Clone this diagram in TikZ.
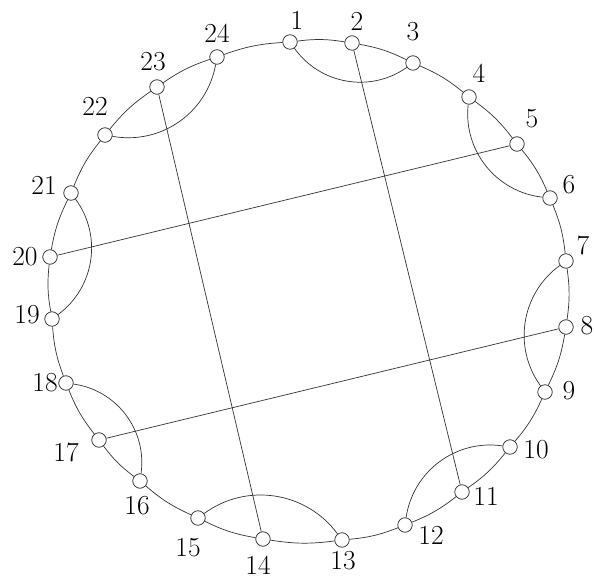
\documentclass[tikz,border=0pt]{standalone}
\begin{document}
\begin{tikzpicture}[x=1pt,y=-1pt,
  vtx/.style={circle,draw=black!85,line width=0.7pt,inner sep=0pt,minimum size=14.5pt},
  lbl/.style={inner sep=0pt,font=\fontsize{27.5}{30}\selectfont},
  edge/.style={draw=black!80,line width=0.7pt}]
\useasboundingbox (0,0) rectangle (594,577);
\foreach \n/\x/\y/\lx/\ly in {
 1/290/42/297/20, 2/352/43/357/21, 3/413/63/413/32, 4/469/97/479/73,
 5/517/144/532/119, 6/550/198/569/185, 7/566/261/583/245, 8/566/327/587/326,
 9/545/392/569/391, 10/510/447/536/450, 11/462/492/486/496, 12/405/525/431/535,
 13/342/540/343/561, 14/263/539/258/565, 15/198/518/188/548, 16/140/481/137/506,
 17/99/440/66/452, 18/66/383/45/383, 19/52/319/27/315, 20/50/257/25/257,
 21/71/193/44/185, 22/105/135/95/106, 23/157/87/153/62, 24/217/57/217/33}{
  \node[vtx] (v\n) at (\x,\y) {};
  \node[lbl] (l\n) at (\lx,\ly) {\n};
}
\foreach \a/\b in {1/2,2/3,3/4,4/5,5/6,6/7,7/8,8/9,9/10,10/11,11/12,12/13,
  13/14,14/15,15/16,16/17,17/18,18/19,19/20,20/21,21/22,22/23,23/24,24/1}
  \draw[edge] (v\a) to[bend left=8] (v\b);
\foreach \a/\b in {1/3,4/6,7/9,10/12,13/15,16/18,19/21,22/24}
  \draw[edge] (v\a) to[bend right=45] (v\b);
\foreach \a/\b in {2/11,5/20,8/17,23/14}
  \draw[edge] (v\a) -- (v\b);
\end{tikzpicture}
\end{document}
